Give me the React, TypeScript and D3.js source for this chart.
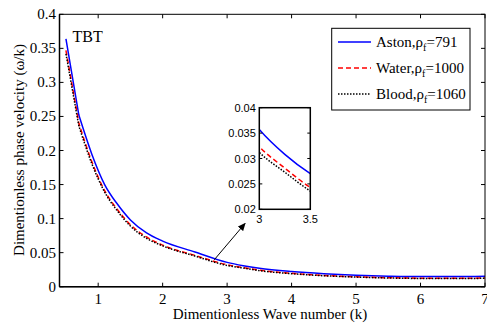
import React from "react";
import * as d3 from "d3";

const kValues = [0.5, 0.7, 0.9, 1.1, 1.3, 1.5, 1.75, 2.0, 2.5, 3.0, 3.25, 3.5, 4.0, 4.5, 5.0, 5.5, 6.0, 6.5, 7.0];
const astonValues = [0.364, 0.252, 0.195, 0.150, 0.121, 0.098, 0.079, 0.067, 0.051, 0.0357, 0.0308, 0.0270, 0.0222, 0.0190, 0.0168, 0.0155, 0.0148, 0.0148, 0.0155];
const waterValues = [0.347, 0.240, 0.184, 0.141, 0.113, 0.091, 0.073, 0.061, 0.046, 0.0323, 0.0281, 0.0243, 0.0197, 0.0166, 0.0145, 0.0132, 0.0125, 0.0124, 0.0127];
const bloodValues = [0.342, 0.236, 0.181, 0.139, 0.111, 0.089, 0.071, 0.060, 0.045, 0.0312, 0.0273, 0.0236, 0.0191, 0.0161, 0.0141, 0.0128, 0.0121, 0.0120, 0.0123];

const seriesNames = ["Aston", "Water", "Blood"];
const seriesRho = ["791", "1000", "1060"];
const seriesColors = ["#0000ff", "#ff0000", "#000000"];
const seriesDash = ["none", "5,3", "1.5,1.5"];

const xTicks = [1, 2, 3, 4, 5, 6, 7];
const yTicks = [0, 0.05, 0.1, 0.15, 0.2, 0.25, 0.3, 0.35, 0.4];
const insetXTicks = [3, 3.5];
const insetYTicks = [0.02, 0.025, 0.03, 0.035, 0.04];

export default function App() {
  const W = 487, H = 328;
  const L = 59.5, R = 485, T = 14.3, B = 286.7;
  const x = d3.scaleLinear().domain([0.4, 7]).range([L, R]);
  const y = d3.scaleLinear().domain([0, 0.4]).range([B, T]);

  const iL = 259.3, iR = 310.3, iT = 107.7, iB = 209.3;
  const ix = d3.scaleLinear().domain([3, 3.5]).range([iL, iR]);
  const iy = d3.scaleLinear().domain([0.02, 0.04]).range([iB, iT]);

  const allSeries = [astonValues, waterValues, bloodValues];
  type P = [number, number];
  const toPts = (s: number[]): P[] => s.map((v, i) => [kValues[i], v]);
  const lineLin = d3.line<P>().x((d) => x(d[0])).y((d) => y(d[1]));
  const lineSmooth = d3.line<P>().x((d) => x(d[0])).y((d) => y(d[1])).curve(d3.curveMonotoneX);
  const mainPath = (s: number[]) => {
    const pts = toPts(s);
    const a = lineLin(pts.slice(0, 2)) || "";
    const b = (lineSmooth(pts.slice(1)) || "").replace(/^M/, "L");
    return a + b;
  };
  const iline = d3.line<P>().x((d) => ix(d[0])).y((d) => iy(d[1])).curve(d3.curveMonotoneX);

  const serif = "'Liberation Serif'";
  const sans = "'Liberation Sans'";
  const tl = 4;

  return (
    <svg width={W} height={H} style={{ position: "absolute", left: 0, top: 0 }} xmlns="http://www.w3.org/2000/svg">
      <defs>
        <clipPath id="mainClip">
          <rect x={L} y={T} width={R - L} height={B - T} />
        </clipPath>
        <clipPath id="insetClip">
          <rect x={iL} y={iT} width={iR - iL} height={iB - iT} />
        </clipPath>
        <marker id="arrowHead" markerWidth="8" markerHeight="8" refX="7" refY="4" orient="auto" markerUnits="userSpaceOnUse">
          <path d="M0,0.5 L8,4 L0,7.5 Z" fill="#000" />
        </marker>
      </defs>
      <rect x={0} y={0} width={W} height={H} fill="#fff" />

      <g clipPath="url(#mainClip)">
        {allSeries.map((s, i) => (
          <path key={i} d={mainPath(s)} fill="none" stroke={seriesColors[i]} strokeWidth={1.5} strokeDasharray={seriesDash[i]} />
        ))}
      </g>

      {xTicks.map((t) => (
        <g key={"xt" + t}>
          <line x1={x(t)} x2={x(t)} y1={B} y2={B - tl} stroke="#000" />
          <line x1={x(t)} x2={x(t)} y1={T} y2={T + tl} stroke="#000" />
          <text x={x(t)} y={304} textAnchor="middle" style={{ fontFamily: serif, fontSize: 15 }}>{t}</text>
        </g>
      ))}
      {yTicks.map((t) => (
        <g key={"yt" + t}>
          <line x1={L} x2={L + tl} y1={y(t)} y2={y(t)} stroke="#000" />
          <line x1={R} x2={R - tl} y1={y(t)} y2={y(t)} stroke="#000" />
          <text x={56} y={y(t) + 5} textAnchor="end" style={{ fontFamily: serif, fontSize: 15 }}>{String(t)}</text>
        </g>
      ))}
      <rect x={L} y={T} width={R - L} height={B - T} fill="none" stroke="#000" strokeWidth={1} />
      <line x1={L} x2={R} y1={B} y2={B} stroke="#000" strokeWidth={1.5} />
      <line x1={L} x2={L} y1={T} y2={B} stroke="#000" strokeWidth={1.5} />

      <text x={72.5} y={41.8} style={{ fontFamily: serif, fontSize: 16 }}>TBT</text>

      <text x={270} y={319} textAnchor="middle" style={{ fontFamily: serif, fontSize: 15 }}>Dimentionless Wave number (k)</text>
      <text transform={`translate(23.5,150) rotate(-90)`} textAnchor="middle" style={{ fontFamily: serif, fontSize: 15 }}>Dimentionless phase velocity (ω/k)</text>

      <rect x={331.7} y={28.3} width={138.3} height={81.7} fill="#fff" stroke="#000" strokeWidth={1} />
      {seriesNames.map((n, i) => {
        const ly = 42 + i * 26;
        return (
          <g key={"lg" + i}>
            <line x1={338} x2={371} y1={ly} y2={ly} stroke={seriesColors[i]} strokeWidth={1.5} strokeDasharray={seriesDash[i]} />
            <text x={376} y={ly + 4.5} style={{ fontFamily: serif, fontSize: 15 }}>
              {n},ρ<tspan style={{ fontSize: 10 }} dy={4.5}>f</tspan><tspan dy={-4.5}>=</tspan>{seriesRho[i]}
            </text>
          </g>
        );
      })}

      <rect x={iL} y={iT} width={iR - iL} height={iB - iT} fill="#fff" stroke="none" />
      <g clipPath="url(#insetClip)">
        {allSeries.map((s, i) => (
          <path key={"in" + i} d={iline(toPts(s)) || ""} fill="none" stroke={seriesColors[i]} strokeWidth={1.5} strokeDasharray={seriesDash[i]} />
        ))}
      </g>
      <rect x={iL} y={iT} width={iR - iL} height={iB - iT} fill="none" stroke="#000" strokeWidth={1.5} />
      {insetYTicks.map((t) => (
        <g key={"iyt" + t}>
          <line x1={iL} x2={iL + 3} y1={iy(t)} y2={iy(t)} stroke="#000" />
          <line x1={iR} x2={iR - 3} y1={iy(t)} y2={iy(t)} stroke="#000" />
          <text x={iL - 3.5} y={iy(t) + 4} textAnchor="end" style={{ fontFamily: sans, fontSize: 11 }}>{String(t)}</text>
        </g>
      ))}
      {insetXTicks.map((t) => (
        <text key={"ixt" + t} x={ix(t)} y={iB + 14} textAnchor="middle" style={{ fontFamily: sans, fontSize: 11 }}>{String(t)}</text>
      ))}

      <line x1={x(2.8)} y1={y(0.0395)} x2={245} y2={223.5} stroke="#000" strokeWidth={1} markerEnd="url(#arrowHead)" />
    </svg>
  );
}
